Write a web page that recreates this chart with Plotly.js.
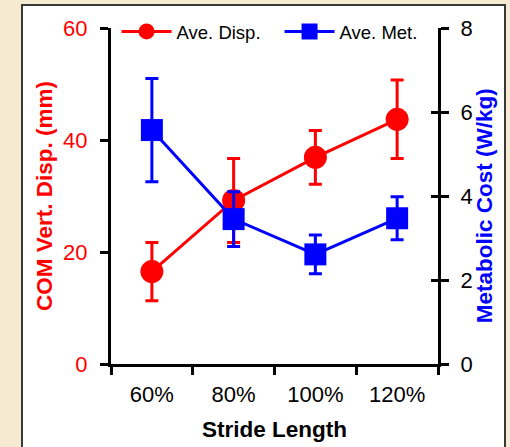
<!DOCTYPE html>
<html>
<head>
<meta charset="utf-8">
<script src="https://cdn.plot.ly/plotly-3.0.1.min.js"></script>
<style>
  html, body { margin:0; padding:0; width:510px; height:447px; overflow:hidden;
    background:#f6ebd0; }
  #panel { position:absolute; left:21px; top:4px; width:485px; height:470px;
    box-sizing:border-box; border:2px solid #383838; background:#ffffff; }
  #chart { position:absolute; left:0; top:0; width:510px; height:447px; }
</style>
</head>
<body>
<div id="panel"></div>
<div id="chart"></div>
<script>
// ---- data ----
var strideLabels = ['60%', '80%', '100%', '120%'];
var dispValues   = [16.5, 29.2, 36.9, 43.7];   // COM vertical displacement (mm)
var dispErrors   = [5.2, 7.5, 4.8, 7.0];
var metValues    = [5.57, 3.45, 2.61, 3.47];   // metabolic cost (W/kg)
var metErrors    = [1.23, 0.65, 0.46, 0.51];
var leftTicks    = [0, 20, 40, 60];
var rightTicks   = [0, 2, 4, 6, 8];

var FONT = 'Liberation Sans, Arial, Helvetica, sans-serif';
var RED = '#ff0000', BLUE = '#0000ff';

var traces = [
  {
    name: 'Ave. Disp.', type: 'scatter', mode: 'lines+markers',
    x: strideLabels, y: dispValues, yaxis: 'y',
    line: {color: RED, width: 3},
    marker: {color: RED, symbol: 'circle', size: 23},
    error_y: {type: 'data', array: dispErrors, visible: true,
              color: RED, thickness: 3, width: 6.5},
    hoverinfo: 'skip'
  },
  {
    name: 'Ave. Met.', type: 'scatter', mode: 'lines+markers',
    x: strideLabels, y: metValues, yaxis: 'y2',
    line: {color: BLUE, width: 3},
    marker: {color: BLUE, symbol: 'square', size: 22},
    error_y: {type: 'data', array: metErrors, visible: true,
              color: BLUE, thickness: 3, width: 6.5},
    hoverinfo: 'skip'
  },
  {
    // carrier for the inner half of the right-axis tick marks
    x: strideLabels, y: metValues, yaxis: 'y3', type: 'scatter', mode: 'markers',
    marker: {opacity: 0}, showlegend: false, hoverinfo: 'skip'
  }
];

var layout = {
  width: 510, height: 447,
  margin: {l: 111, r: 72, t: 28, b: 83, pad: 0},
  paper_bgcolor: 'rgba(0,0,0,0)',
  plot_bgcolor: 'rgba(0,0,0,0)',
  font: {family: FONT, size: 22, color: '#000'},
  showlegend: true,
  legend: {
    orientation: 'h', x: 0.017, y: 1.045, xanchor: 'left', yanchor: 'top',
    bgcolor: 'rgba(0,0,0,0)', itemwidth: 50, entrywidth: 98,
    font: {family: FONT, size: 18.5, color: '#000'}
  },
  xaxis: {
    type: 'category', tickson: 'boundaries', range: [-0.5, 3.5],
    showline: true, linecolor: '#000', linewidth: 3,
    ticks: 'outside', ticklen: 8, tickwidth: 3, tickcolor: '#000',
    showgrid: false, zeroline: false,
    tickfont: {family: FONT, size: 22, color: '#000'},
    ticklabelstandoff: 9
  },
  yaxis: {
    range: [0, 60], tickvals: leftTicks,
    showline: true, linecolor: '#000', linewidth: 3,
    ticks: 'outside', ticklen: 8, tickwidth: 3, tickcolor: '#000',
    showgrid: false, zeroline: false,
    tickfont: {family: FONT, size: 22, color: RED},
    ticklabelstandoff: 8
  },
  yaxis2: {
    range: [0, 8], tickvals: rightTicks, overlaying: 'y', side: 'right',
    showline: true, linecolor: '#000', linewidth: 3,
    ticks: 'outside', ticklen: 8, tickwidth: 3, tickcolor: '#000',
    showgrid: false, zeroline: false,
    tickfont: {family: FONT, size: 22, color: '#000'},
    ticklabelstandoff: 7
  },
  yaxis3: {
    range: [0, 8], tickvals: rightTicks, overlaying: 'y', side: 'right',
    showline: false, ticks: 'inside', ticklen: 7, tickwidth: 3, tickcolor: '#000',
    showticklabels: false, showgrid: false, zeroline: false
  },
  annotations: [
    {text: '<b>COM Vert. Disp. (mm)</b>', xref: 'paper', yref: 'paper',
     x: -0.205, y: 0.5, xanchor: 'center', yanchor: 'middle', textangle: -90,
     showarrow: false, font: {family: FONT, size: 22.5, color: RED}},
    {text: '<b>Metabolic Cost (W/kg)</b>', xref: 'paper', yref: 'paper',
     x: 1.141, y: 0.47, xanchor: 'center', yanchor: 'middle', textangle: -90,
     showarrow: false, font: {family: FONT, size: 22.5, color: BLUE}},
    {text: '<b>Stride Length</b>', xref: 'paper', yref: 'paper',
     x: 0.5, y: -0.196, xanchor: 'center', yanchor: 'middle',
     showarrow: false, font: {family: FONT, size: 22.5, color: '#000'}}
  ]
};

Plotly.newPlot('chart', traces, layout, {displayModeBar: false, staticPlot: true});
</script>
</body>
</html>
